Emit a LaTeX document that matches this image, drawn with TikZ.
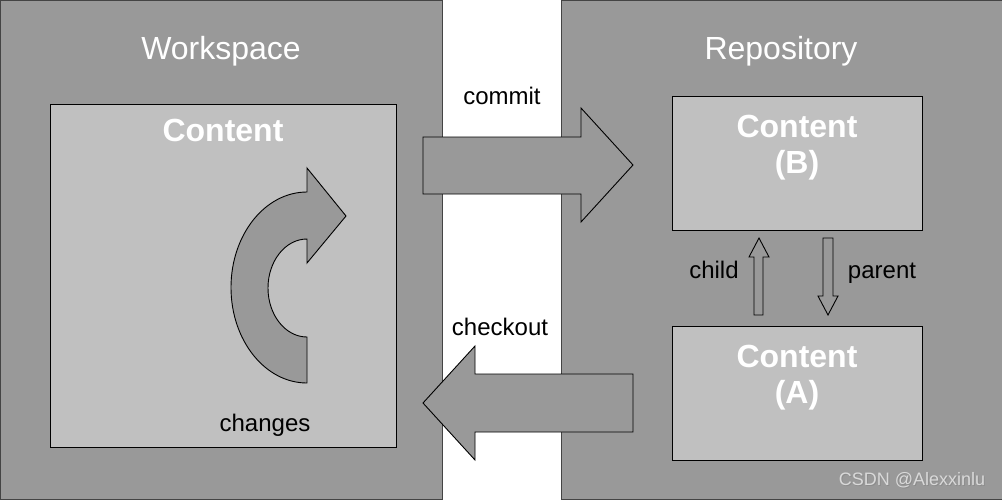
\documentclass[tikz,border=0pt]{standalone}
\usepackage{fontspec}
\setmainfont{Liberation Sans}
\definecolor{panelgray}{HTML}{999999}
\definecolor{boxgray}{HTML}{C0C0C0}
\definecolor{edgegray}{HTML}{444444}
\begin{document}
\begin{tikzpicture}[x=1pt,y=-1pt,
  panelbox/.style={fill=panelgray,draw=edgegray,line width=1pt,anchor=north west,inner sep=0pt},
  contentbox/.style={fill=boxgray,draw=black,line width=1pt,inner sep=0pt},
  titletext/.style={text=white,inner sep=0pt,font=\fontsize{32}{36}\selectfont},
  contenttext/.style={text=white,inner sep=0pt,align=center,font=\fontsize{32}{36}\selectfont\bfseries},
  labeltext/.style={text=black,inner sep=0pt,font=\fontsize{24}{28}\selectfont},
  bigarrow/.style={fill=panelgray,draw=black,line width=0.9pt,line join=miter},
  smallarrow/.style={fill=panelgray,draw=black,line width=0.9pt}]
\useasboundingbox (0,0) rectangle (1002,499);
\fill[white] (0,0) rectangle (1002,499);
% panels
\node[panelbox,minimum width=442pt,minimum height=499pt] (ws) at (0,0) {};
\node[panelbox,minimum width=441pt,minimum height=499pt] (repo) at (561,0) {};
\node[titletext] (wstitle) at (221,51) {Workspace};
\node[titletext] (repotitle) at (781,51) {Repository};
% content boxes
\node[contentbox,minimum width=346pt,minimum height=343pt] (wsbox) at (223,275.5) {};
\node[contentbox,minimum width=250pt,minimum height=134pt] (bbox) at (797,163) {};
\node[contentbox,minimum width=250pt,minimum height=134pt] (abox) at (797,393) {};
\node[contenttext] (wscontent) at (223,130) {Content};
\node[contenttext] (bcontent) at (797,148) {Content\\(B)};
\node[contenttext] (acontent) at (797,378) {Content\\(A)};
% commit arrow
\draw[bigarrow] (423,137) -- (581,137) -- (581,108) -- (633,165) -- (581,222) -- (581,194) -- (423,194) -- cycle;
% checkout arrow
\draw[bigarrow] (633,374) -- (475,374) -- (475,346) -- (423,403) -- (475,460) -- (475,432) -- (633,432) -- cycle;
\node[labeltext] (commit) at (502,96) {commit};
\node[labeltext] (checkout) at (500,327) {checkout};
% curved changes arrow
\draw[bigarrow] (307,192) arc[start angle=-90,end angle=-270,x radius=76,y radius=95.5]
  -- (307,337) arc[start angle=90,end angle=270,x radius=39,y radius=49]
  -- (307,263) -- (346,216) -- (307,168) -- cycle;
\node[labeltext] (changes) at (265,425) {changes};
% child / parent arrows
\draw[smallarrow] (754,315) -- (754,257) -- (749,257) -- (759,238) -- (769,257) -- (763,257) -- (763,315) -- cycle;
\draw[smallarrow] (823,238) -- (833,238) -- (833,296) -- (838,296) -- (828,315) -- (818,296) -- (823,296) -- cycle;
\node[labeltext] (child) at (714,270) {child};
\node[labeltext] (parent) at (882,273) {parent};
% watermark
\node[text=black!45,inner sep=0pt,font=\fontsize{18}{20}\selectfont] (wmshadow) at (913,481) {CSDN @Alexxinlu};
\node[text=black!15,inner sep=0pt,font=\fontsize{18}{20}\selectfont] (wm) at (912,480) {CSDN @Alexxinlu};
\end{tikzpicture}
\end{document}
